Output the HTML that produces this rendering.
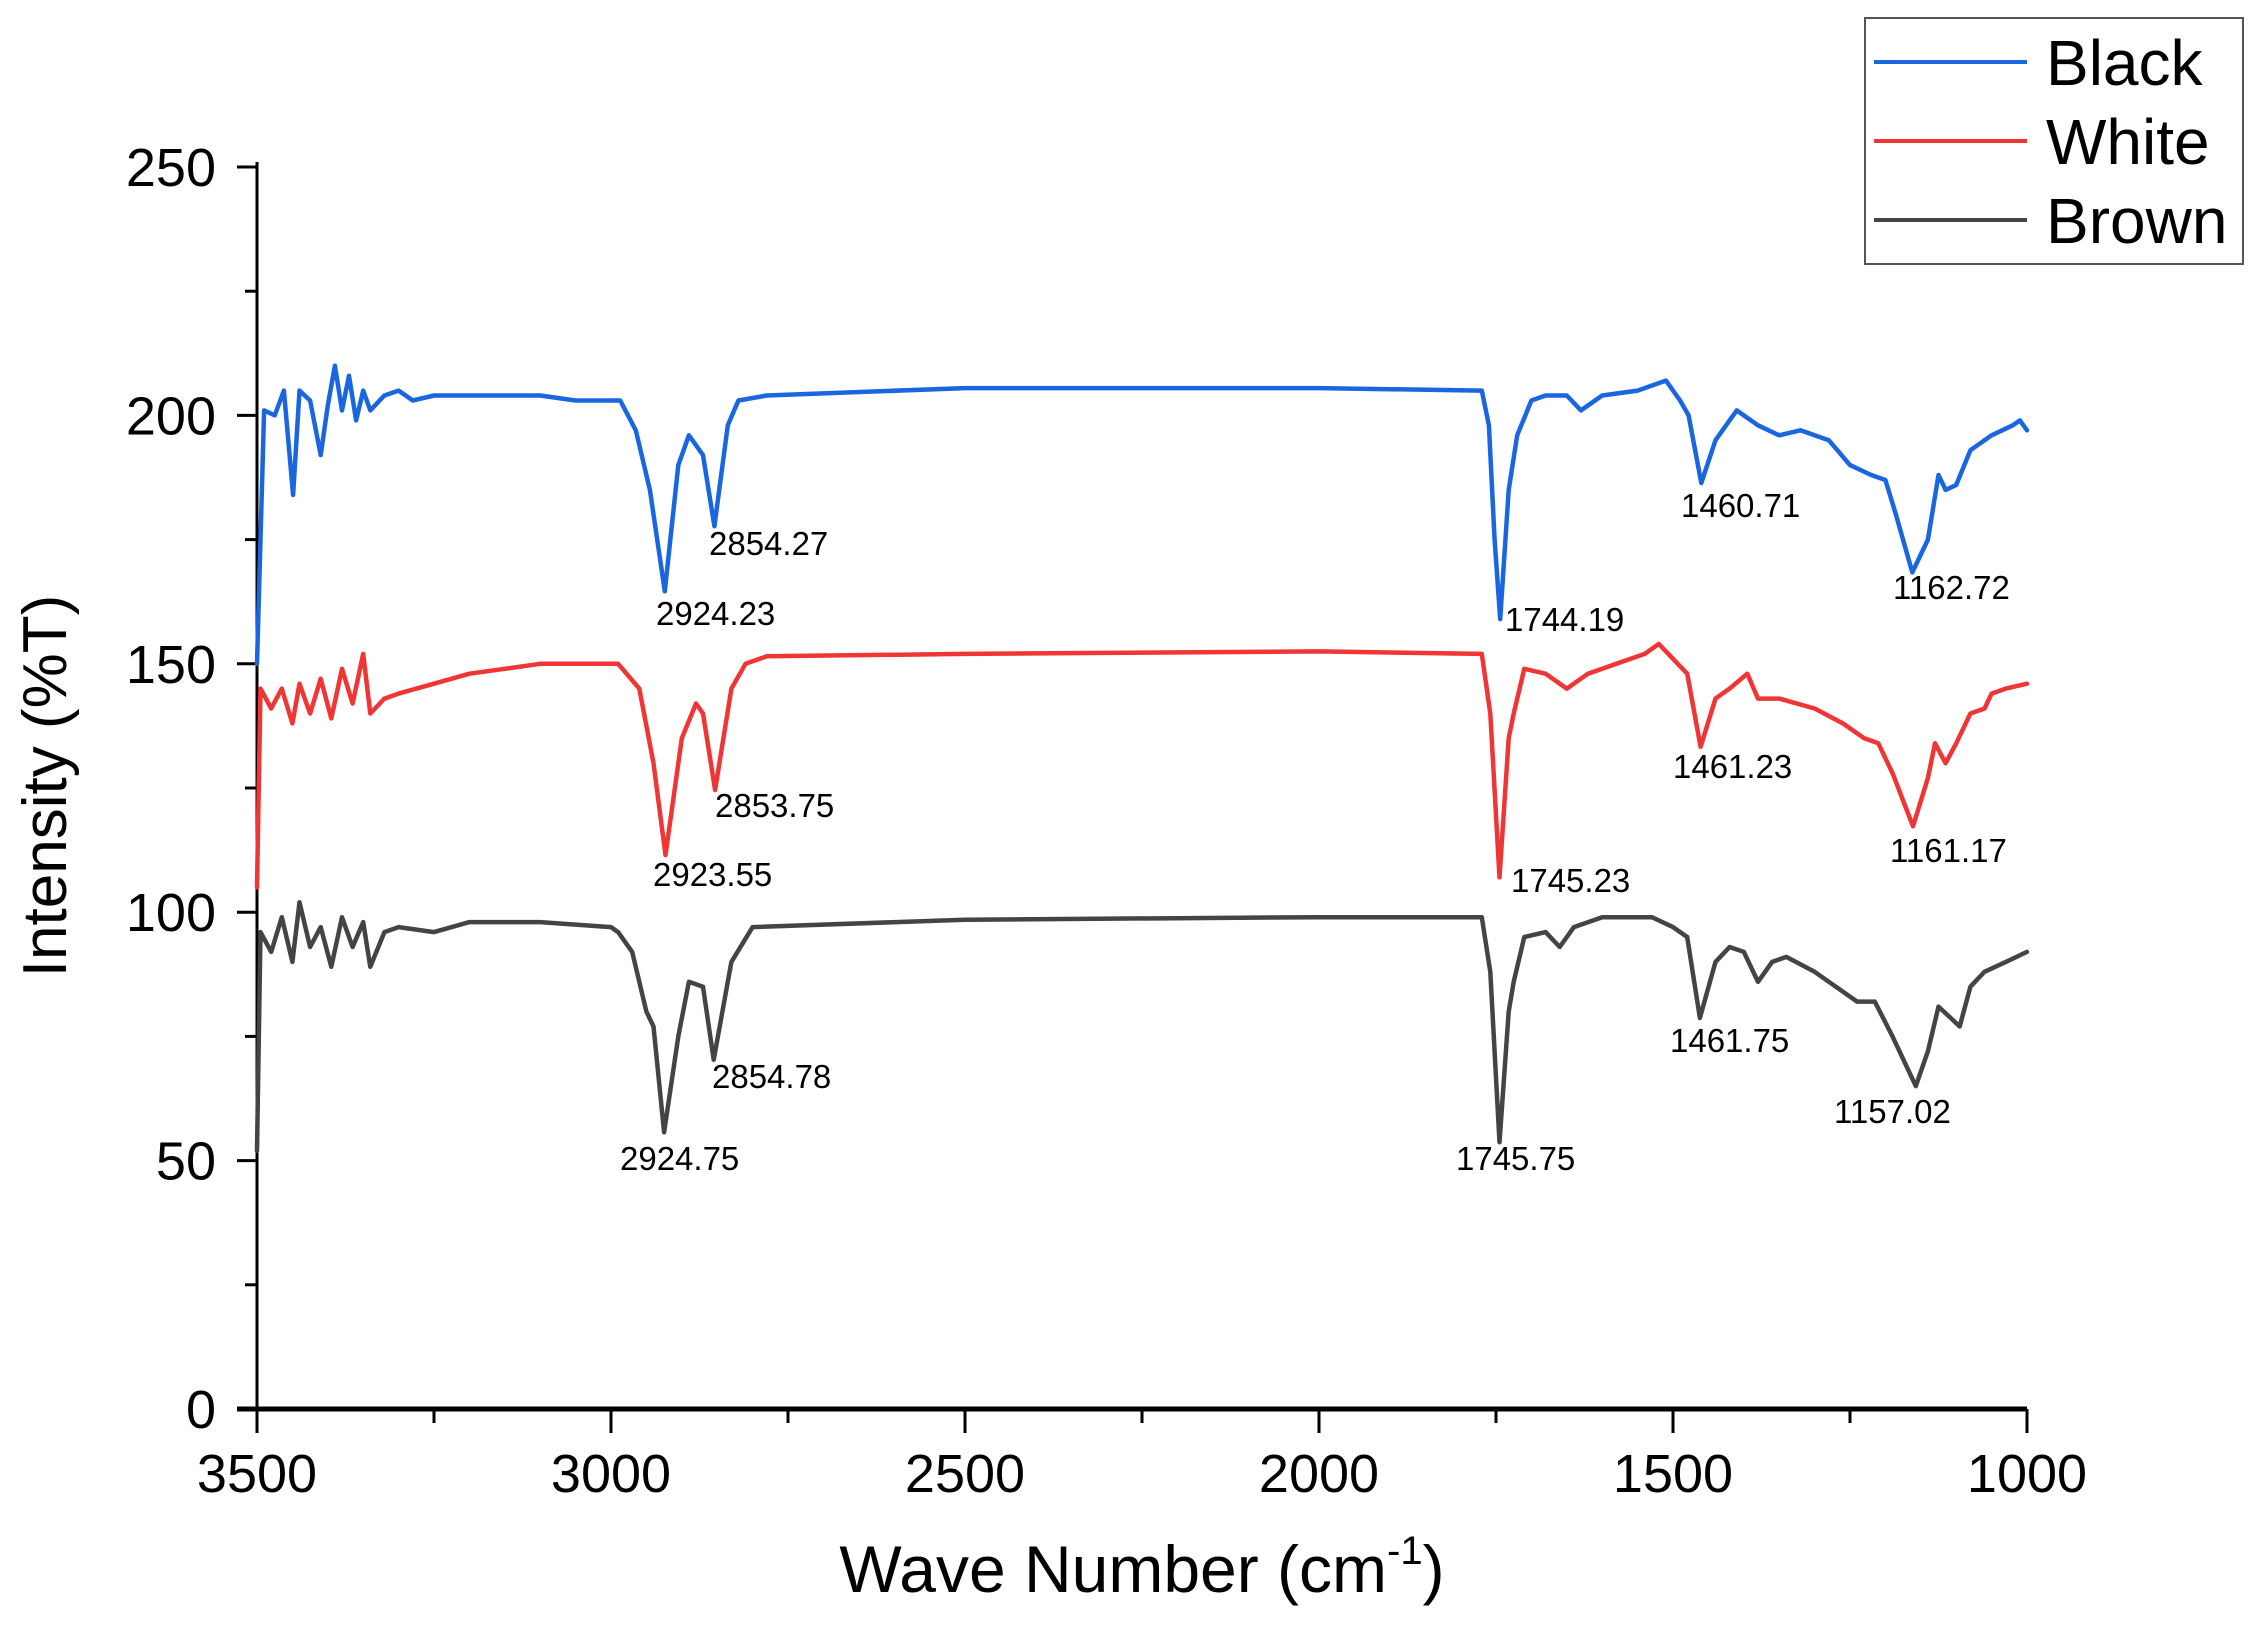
<!DOCTYPE html>
<html><head><meta charset="utf-8"><style>
body{margin:0;background:#fff;}
svg{display:block;font-family:"Liberation Sans",Arial,sans-serif;}
</style></head><body>
<svg id="chart" width="2261" height="1626" viewBox="0 0 2261 1626" xmlns="http://www.w3.org/2000/svg">
<rect width="2261" height="1626" fill="#fff"/>
<g id="axes"></g>
<g id="series"></g>
<g id="annots"></g>
<text x="1142" y="1592" font-size="66" text-anchor="middle">Wave Number (cm<tspan font-size="40" dy="-28">-1</tspan><tspan dy="28">)</tspan></text>
<text transform="translate(66,786) rotate(-90)" font-size="62" text-anchor="middle">Intensity (%T)</text>
<g>
<rect x="1865" y="18" width="378" height="246" fill="#fff" stroke="#555" stroke-width="2"/>
<line x1="1874" y1="62" x2="2027" y2="62" stroke="#1a66e0" stroke-width="4"/>
<text x="2046" y="85" font-size="64">Black</text>
<line x1="1874" y1="141" x2="2027" y2="141" stroke="#f03535" stroke-width="4"/>
<text x="2046" y="164" font-size="64">White</text>
<line x1="1874" y1="220" x2="2027" y2="220" stroke="#444" stroke-width="4"/>
<text x="2046" y="243" font-size="64">Brown</text>
</g>
</svg>
<script>
const xTicks=[3500,3000,2500,2000,1500,1000];
const yTicks=[0,50,100,150,200,250];
const blackWn=[3500,3490,3475,3462,3449,3440,3425,3410,3400,3390,3380,3370,3360,3350,3340,3320,3300,3280,3250,3200,3150,3100,3050,3000,2987,2965,2945,2924,2905,2890,2870,2854,2835,2820,2780,2500,2000,1770,1760,1752,1744,1732,1720,1700,1680,1650,1630,1600,1550,1510,1490,1478,1460,1440,1410,1380,1350,1320,1280,1250,1220,1200,1185,1162,1140,1125,1115,1100,1080,1050,1020,1010,1000];
const blackVal=[150,201,200,205,184,205,203,192,202,210,201,208,199,205,201,204,205,203,204,204,204,204,203,203,203,197,185,164.6,190,196,192,177.7,198,203,204,205.5,205.5,205,198,175,159,185,196,203,204,204,201,204,205,207,203,200,186.4,195,201,198,196,197,195,190,188,187,180,168.4,175,188,185,186,193,196,198,199,197];
const whiteWn=[3500,3495,3480,3465,3450,3440,3425,3410,3395,3380,3365,3350,3340,3320,3300,3250,3200,3150,3100,3050,2990,2960,2940,2923,2900,2880,2870,2853,2830,2810,2780,2500,2000,1770,1758,1745,1732,1725,1710,1680,1650,1620,1580,1540,1520,1500,1480,1461,1440,1420,1395,1380,1350,1300,1260,1230,1210,1190,1161,1140,1130,1115,1100,1080,1060,1050,1030,1000];
const whiteVal=[105,145,141,145,138,146,140,147,139,149,142,152,140,143,144,146,148,149,150,150,150,145,130,111.5,135,142,140,124.6,145,150,151.5,152,152.5,152,140,107,135,140,149,148,145,148,150,152,154,151,148,133.3,143,145,148,143,143,141,138,135,134,128,117.3,127,134,130,134,140,141,144,145,146];
const brownWn=[3500,3495,3480,3465,3450,3440,3425,3410,3395,3380,3365,3350,3340,3320,3300,3250,3200,3100,3000,2990,2970,2950,2940,2925,2905,2890,2870,2855,2830,2800,2500,2000,1770,1758,1745,1732,1725,1710,1680,1660,1640,1600,1560,1530,1500,1480,1462,1440,1420,1400,1380,1360,1340,1300,1270,1240,1215,1190,1157,1140,1125,1110,1095,1080,1060,1030,1000];
const brownVal=[52,96,92,99,90,102,93,97,89,99,93,98,89,96,97,96,98,98,97,96,92,80,77,55.7,75,86,85,70.3,90,97,98.5,99,99,88,53.7,80,86,95,96,93,97,99,99,99,97,95,78.7,90,93,92,86,90,91,88,85,82,82,75,65,72,81,79,77,85,88,90,92];
const peakLabels=["2924.23","2854.27","1744.19","1460.71","1162.72","2923.55","2853.75","1745.23","1461.23","1161.17","2924.75","2854.78","1745.75","1461.75","1157.02"];
const peakLx=[656,709,1505,1681,1893,653,715,1511,1673,1890,620,712,1456,1670,1834];
const peakLy=[614,544,620,506,588,875,806,881,767,851,1159,1077,1159,1041,1112];

const X0=257,X1=2027,Y0=1409,Y1=167;
const xs=v=>X0+(3500-v)/2500*(X1-X0);
const ys=v=>Y0-v/250*(Y0-Y1);
const NS="http://www.w3.org/2000/svg";
function mk(tag,attrs,parent){const e=document.createElementNS(NS,tag);for(const k in attrs)e.setAttribute(k,attrs[k]);parent.appendChild(e);return e;}
const axes=document.getElementById('axes');
let e=mk('line',{x1:X0,y1:Y1-5,x2:X0,y2:Y0,stroke:'#000','stroke-width':3},axes);


e=mk('line',{x1:X0-20,y1:Y0,x2:X1,y2:Y0,stroke:'#000','stroke-width':5},axes);


for(let v=3500;v>=1000;v-=250){const major=v%500===0;
 e=mk('line',{x1:xs(v),y1:Y0,x2:xs(v),y2:Y0+(major?24:14),stroke:'#000','stroke-width':3},axes);
 
 }
xTicks.forEach(v=>{e=mk('text',{x:xs(v),y:1492,'font-size':54,'text-anchor':'middle'},axes);e.textContent=v;
 
 });
for(let v=0;v<=250;v+=25){const major=v%50===0;
 e=mk('line',{x1:X0,y1:ys(v),x2:X0-(major?20:12),y2:ys(v),stroke:'#000','stroke-width':3},axes);
 
 }
yTicks.forEach(v=>{e=mk('text',{x:216,y:ys(v)+19,'font-size':54,'text-anchor':'end'},axes);e.textContent=v;
 
 });
const sg=document.getElementById('series');
[[blackWn,blackVal,'#1a66e0','series-black'],[whiteWn,whiteVal,'#f03535','series-white'],[brownWn,brownVal,'#444','series-brown']].forEach(([w,v,c,n])=>{
 const d=w.map((x,i)=>(i?'L':'M')+xs(x).toFixed(1)+','+ys(v[i]).toFixed(1)).join('');
 e=mk('path',{d:d,fill:'none',stroke:c,'stroke-width':4.5,'stroke-linejoin':'round','stroke-linecap':'round'},sg);
 
 
});
const ag=document.getElementById('annots');
peakLabels.forEach((t,i)=>{e=mk('text',{x:peakLx[i],y:peakLy[i]+11,'font-size':33},ag);e.textContent=t;
 
 });
</script>
</body></html>
